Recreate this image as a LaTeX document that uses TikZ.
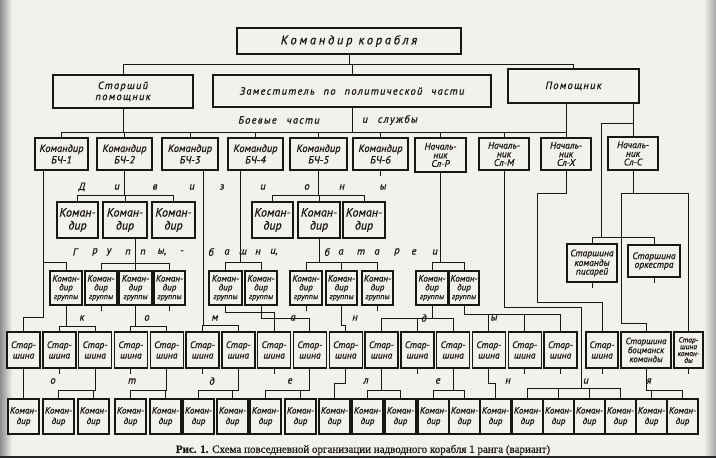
\documentclass[tikz,border=0pt]{standalone}
\usepackage{fontspec}
\setmainfont{PT Sans}[ItalicFeatures={FakeBold=0.7}]
\newfontfamily\capfont{Liberation Serif}[FakeBold=0.4]
\newfontfamily\kkfont{PT Sans}[LetterSpace=22,ItalicFeatures={FakeBold=0.7}]
\newfontfamily\spfont{PT Sans}[LetterSpace=12,ItalicFeatures={FakeBold=0.7}]
\definecolor{paper}{RGB}{243,241,236}
\definecolor{ink}{RGB}{25,22,22}
\newcommand\bx[7]{\node[#6, minimum width={(#3-#1)*1pt}, minimum height={(#4-#2)*1pt}] (#5) at ({(#1+#3)/2},{(#2+#4)/2}) {#7};}
\newcommand\fan[3]{\foreach \tgt in {#3} {\draw[conn] (#1) -- (#1 |- 0,#2) -| (\tgt.north);}}
\begin{document}
\begin{tikzpicture}[x=1pt,y=-1pt,
  box/.style={draw=ink, line width=1.4pt, fill=paper, inner sep=0pt, align=center, text=ink},
  kkbox/.style={box, font=\kkfont\itshape\fontsize{12.5}{13}\selectfont},
  bigbox/.style={box, font=\spfont\itshape\fontsize{10.5}{11}\selectfont},
  bch/.style={box, font=\itshape\fontsize{10.5}{11.5}\selectfont},
  slbox/.style={box, font=\itshape\fontsize{9.5}{8.6}\selectfont},
  divbox/.style={box, font=\itshape\fontsize{12}{13}\selectfont},
  grpbox/.style={box, font=\itshape\fontsize{9}{8.8}\selectfont},
  sbox/.style={box, font=\itshape\fontsize{9.5}{10.5}\selectfont},
  bbox/.style={box, font=\itshape\fontsize{9}{10.5}\selectfont},
  conn/.style={draw=ink, line width=0.9pt},
  lab/.style={font=\itshape\fontsize{10.5}{10}\selectfont, text=ink, inner sep=0pt}]
\useasboundingbox (0,0) rectangle (716,458);
\fill[paper] (0,0) rectangle (716,458);
\shade[left color=black!45, right color=paper] (0,0) rectangle (12,458);
\shade[left color=paper, right color=black!35] (704,0) rectangle (716,458);
\fill[black!85] (0,456) rectangle (716,458);

% top level
\bx{237}{28}{461}{54}{kk}{kkbox}{Командир корабля}
\bx{53}{75}{193}{108}{spk}{bigbox}{Старший\\помощник}
\bx{213}{75}{491}{107}{zam}{bigbox}{Заместитель\hspace{5pt} по\hspace{5pt} политической\hspace{5pt} части}
\bx{508}{69}{639}{103}{pom}{bigbox}{Помощник}

% BCh row
\bx{35}{138}{88}{170}{bc1}{bch}{Командир\\БЧ-1}
\bx{97}{138}{152}{170}{bc2}{bch}{Командир\\БЧ-2}
\bx{162}{138}{218}{170}{bc3}{bch}{Командир\\БЧ-3}
\bx{228}{138}{283}{170}{bc4}{bch}{Командир\\БЧ-4}
\bx{290}{138}{347}{170}{bc5}{bch}{Командир\\БЧ-5}
\bx{353}{138}{408}{170}{bc6}{bch}{Командир\\БЧ-6}
\bx{415}{138}{466}{172}{slr}{slbox}{Началь-\\ник\\Сл-Р}
\bx{479}{138}{529}{170}{slm}{slbox}{Началь-\\ник\\Сл-М}
\bx{541}{138}{591}{170}{slx}{slbox}{Началь-\\ник\\Сл-Х}
\bx{608}{137}{658}{170}{slc}{slbox}{Началь-\\ник\\Сл-С}

% division commanders
\bx{57}{202}{98}{238}{e1}{divbox}{Коман-\\дир}
\bx{103}{202}{147}{238}{e2}{divbox}{Коман-\\дир}
\bx{152}{202}{195}{238}{e3}{divbox}{Коман-\\дир}
\bx{252}{202}{293}{238}{f1}{divbox}{Коман-\\дир}
\bx{298}{202}{340}{238}{f2}{divbox}{Коман-\\дир}
\bx{343}{202}{385}{238}{f3}{divbox}{Коман-\\дир}

% group commanders
\foreach \nm/\L/\R in {a1/50/82,a2/85/117,a3/119/152,a4/154/185,g1/209/242,g2/245/277,c1/290/322,c2/326/357,c3/362/393,d1/416/448,d2/449/479}
  {\bx{\L}{271}{\R}{305}{\nm}{grpbox}{Коман-\\дир\\{\fontsize{8}{8}\selectfont группы}}}

\bx{567}{244}{617}{282}{pis}{slbox}{Старшина\\команды\\писарей}
\bx{628}{245}{680}{277}{ork}{slbox}{Старшина\\оркестра}

% starshina row
\foreach \i in {0,...,15} {
  \pgfmathsetmacro\L{7+35.8*\i}
  \pgfmathsetmacro\R{\L+33}
  \bx{\L}{332}{\R}{368}{s\i}{sbox}{Стар-\\шина}
}
\bx{586}{332}{618}{368}{s16}{sbox}{Стар-\\шина}
\bx{621}{332}{671}{368}{sb}{box, font=\itshape\fontsize{9}{9}\selectfont}{Старшина\\боцманск\\команды}
\bx{674}{332}{703}{368}{sk}{box, font=\itshape\fontsize{7.5}{6.8}\selectfont}{Стар-\\шина\\коман-\\ды}

% bottom commanders
\foreach \L [count=\j from 0] in {8,43,78,115,150,183,217,250,285,319,352,385,418,449,480,512,543,574,605,636,667} {
  \pgfmathsetmacro\R{\L+31}
  \bx{\L}{399}{\R}{434}{b\j}{bbox}{Коман-\\дир}
}

% ---- connectors: top
\fan{kk.south}{64}{spk,zam,pom}
\fan{spk.south}{132}{bc1,bc2,bc3,bc4,bc5,bc6,slr,slm,slx}
\draw[conn] (zam.south) -- (zam.south |- 0,132);
\coordinate (pomA) at (pom.south -| 566,0);
\draw[conn] (pomA) -- (slx.north);
\coordinate (pomB) at (pom.south -| 633,0);
\draw[conn] (pomB) -- (slc.north);
\coordinate (pomC) at (601,123);
\draw[conn] (pomB |- pomC) -- (pomC);
\fan{pomC}{237}{pis,ork}
% Sl-S
\coordinate (slcA) at (621,193);
\draw[conn] (slc.south) -- (slc.south |- slcA);
\draw[conn] (slcA) -- (sk.north |- slcA) -- (sk.north);
\draw[conn] (slcA) |- (sb.north |- 0,323) -- (sb.north);
% Sl-X
\draw[conn] (slx.south) |- (537,193) |- (s16.north |- 0,302) -- (s16.north);
% Sl-M
\coordinate (slmE) at (581,307);
\draw[conn] (slm.south) |- (slmE);
\fan{slmE}{388}{b15,b16,b17,b18}
% Sl-R
\fan{slr.south}{262}{d1,d2}
% BCh-1
\coordinate (bc1x) at (bc1.south -| 43,0);
\fan{bc1x}{317}{s0}
\fan{bc1x}{262}{a1}
% BCh-2
\fan{bc2.south}{195}{e1,e2,e3}
\coordinate (e2x) at (e2.south -| 135,0);
\fan{e2x}{263}{a2,a3,a4}
\fan{a1.south}{326}{s1,s2}
\fan{a3.south}{326}{s3,s4}
% BCh-3
\coordinate (bc3x) at (bc3.south -| 203,0);
\fan{bc3x}{325}{s5,s6}
% BCh-4
\coordinate (bc4x) at (bc4.south -| 240,0);
\fan{bc4x}{262}{g1,g2}
\fan{g1.south}{312}{s7}
\fan{g2.south}{318}{s8}
% BCh-5
\fan{bc5.south}{195}{f1,f2,f3}
\fan{f2.south}{262}{c1,c2,c3}
\fan{c2.south}{325}{s9}
% groups of Sl-R
\fan{d1.south}{318}{s10,s11,s12}
\fan{d2.south}{314}{s13,s14,s15}
% bottom
\fan{s0.south}{383}{b0}
\fan{s2.south}{390}{b1,b2}
\fan{s4.south}{390}{b3,b4}
\fan{s6.south}{390}{b5,b6}
\fan{s8.south}{390}{b7,b8}
\fan{s9.south}{383}{b9}
\fan{s10.south}{390}{b10,b11}
\fan{s12.south}{390}{b12,b13}
\fan{s13.south}{383}{b14}
\fan{sb.south}{390}{b19,b20}
% ticks
\foreach \n in {bc6,a2,a4,c1,c3,pis,ork,s1,s3,s5,s7,s11,s14,s15,s16,sk}
  \draw[conn] (\n.south) -- ++(0,5);

% ---- labels
\node[lab] (bch1) at (279,120) {\spfont\itshape Боевые\hspace{6pt} части};
\node[lab] (bch2) at (390,120) {\spfont\itshape и\hspace{6pt} службы};
\foreach \x/\t [count=\k] in {82/Д,117/и,155/в,192/и,222/з,263/и,307/о,342/н,383/ы}
  \node[lab] (dv\k) at (\x,187) {\t};
\foreach \x/\t [count=\k] in {75/Г,95/р,109/у,128/п,143/п,162/{ы,},182/-,211/б,227/а,243/ш,258/н,274/{и,},327/б,341/а,361/т,377/а,397/р,414/е,435/и}
  \node[lab] (gr\k) at (\x,252) {\t};
\foreach \x/\t [count=\k] in {82/к,147/о,215/м,293/а,355/н,424/д,494/ы}
  \node[lab] (km\k) at (\x,318) {\t};
\foreach \x/\t [count=\k] in {53/о,132/т,212/д,290/е,366/л,438/е,508/н,586/и,649/я}
  \node[lab] (ot\k) at (\x,381) {\t};

\node[font=\capfont\fontsize{11}{12}\selectfont, text=ink, inner sep=0pt] (cap) at (363,450) {\textbf{Рис. 1.} Схема повседневной организации надводного корабля 1 ранга (вариант)};
\end{tikzpicture}
\end{document}
